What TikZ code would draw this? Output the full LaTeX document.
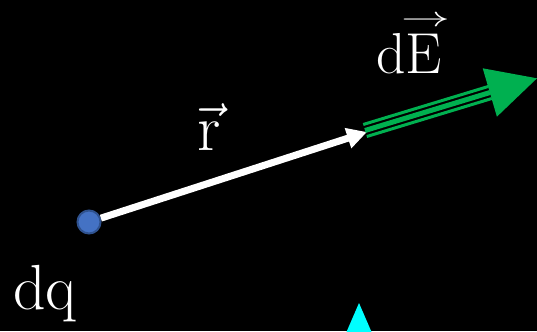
\documentclass[tikz,border=0pt]{standalone}
\usepackage{fix-cm}
\usepackage{graphicx}
\usetikzlibrary{arrows.meta,calc}
\definecolor{bgc}{HTML}{000000}
\definecolor{egreen}{HTML}{00B050}
\definecolor{dotfill}{HTML}{4472C4}
\definecolor{dotline}{HTML}{2F528F}
\definecolor{tricyan}{HTML}{00FFFF}
\tikzset{
  lbl/.style={text=white, inner sep=0pt, anchor=base west},
  rvec/.style={white, line width=7bp, -{Triangle[length=20bp,width=20bp]}},
  gline/.style={egreen, line width=#1},
}
\begin{document}
\begin{tikzpicture}[x=1bp,y=-1bp]
\fill[bgc] (0,0) rectangle (537,331);
\useasboundingbox (0,0) rectangle (537,331);
% coordinates
\coordinate (rtip) at (367,132);
\coordinate (gs) at (365,130.5);
\coordinate (gb) at (490,92.5);
\coordinate (gt) at (537,78.3);
\coordinate (gh1) at (482.7,68.3);
\coordinate (gh2) at (496.9,116.7);
% white vector r
\node[circle, minimum size=23bp, inner sep=0pt, fill=dotfill, draw=dotline, line width=2bp] (dot) at (89,222) {};
\draw[rvec] (dot) -- (rtip);
% green vector dE
\draw[gline=5bp] (gs) -- (gb);
\draw[gline=3bp] ($(gs)+(-1.8,-6)$) -- ($(gb)+(-1.8,-6)$);
\draw[gline=3bp] ($(gs)+(1.8,6)$) -- ($(gb)+(1.8,6)$);
\fill[egreen] (gh1) -- (gt) -- (gh2) -- cycle;
% cyan triangle
\fill[tricyan] (359,303) -- (375,340) -- (343,340) -- cycle;
% labels
\node[lbl, font=\fontsize{64}{70}\selectfont] (dq) at (13,309) {dq};
\node[lbl, font=\fontsize{66}{72}\selectfont] (r) at (197,150) {$\vec{\mathrm{r}}$};
\node[lbl, font=\fontsize{58}{64}\selectfont] (dE) at (376,73) {d\rlap{\hspace{-0.08em}\raisebox{0.8em}{\fontsize{28}{28}\selectfont\scalebox{1.75}[1]{$\rightarrow$}}}E};
\end{tikzpicture}
\end{document}
